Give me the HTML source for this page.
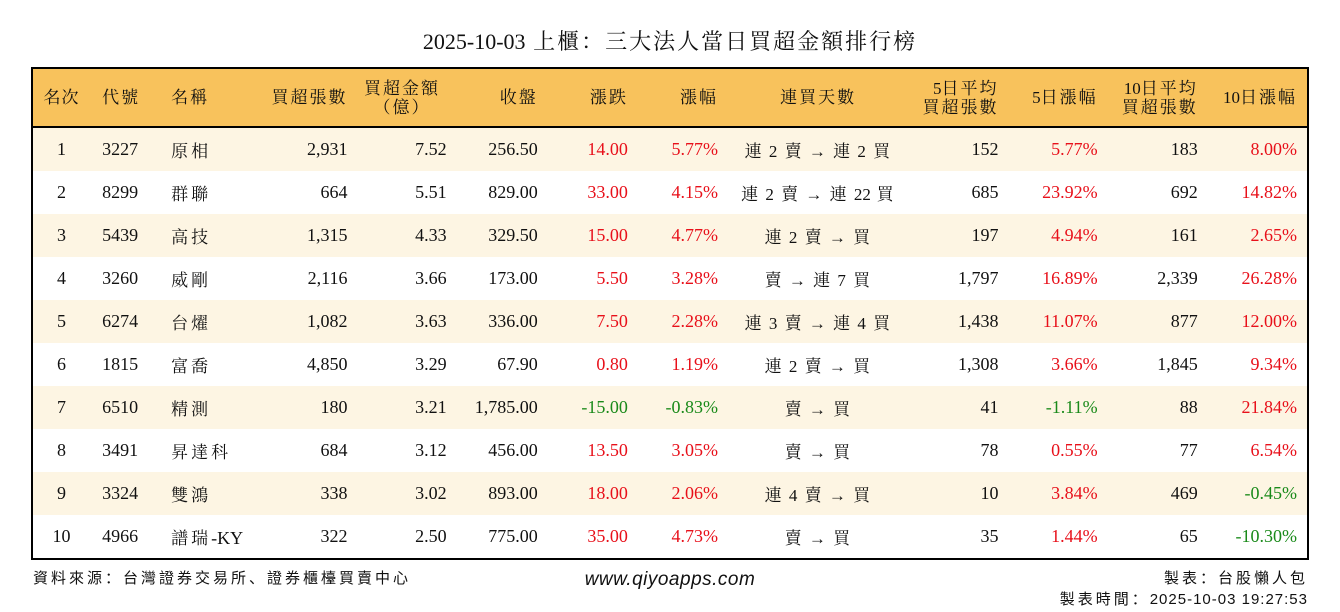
<!DOCTYPE html>
<html><head><meta charset="utf-8"><style>
body{margin:0;width:1340px;height:612px;background:#fff;position:relative;overflow:hidden;font-family:"Liberation Serif","Noto Serif CJK SC",serif;color:#111}
.title{position:absolute;top:28px;left:0;width:1340px;text-align:center;font-size:22px;line-height:28px;letter-spacing:2px}
.n{letter-spacing:0}
table{position:absolute;left:31px;top:67px;width:1278px;border:2px solid #000;border-collapse:collapse;table-layout:fixed;font-size:18px}
th{background:#f8c25c;font-weight:normal;height:57px;border-bottom:2px solid #000;line-height:19px;padding:0 10px;text-align:right;font-size:17px;letter-spacing:2px;white-space:nowrap}
th:first-child{padding:0;letter-spacing:1px}
td{height:43px;padding:0 10px;text-align:right;white-space:nowrap}
tr:nth-child(odd) td{background:#fdf5e3}
tbody tr:nth-child(even) td{background:#fff}
.c{text-align:center}.l{text-align:left;padding-left:12px}
td.l:nth-child(3){letter-spacing:3px;font-size:17px}
td.c:nth-child(9){letter-spacing:1.5px;font-size:17px}
.r{color:#e8101a}.g{color:#1a8a1a}
.f{position:absolute;font-family:"Liberation Sans","Noto Sans CJK SC",sans-serif;font-size:15px;letter-spacing:3px}
</style></head><body>
<div class="title"><span class="n">2025-10-03</span> 上櫃：三大法人當日買超金額排行榜</div>
<table>
<colgroup><col style="width:58px"><col style="width:69px"><col style="width:90px"><col style="width:108px"><col style="width:99px"><col style="width:91px"><col style="width:90px"><col style="width:90px"><col style="width:180px"><col style="width:100px"><col style="width:99px"><col style="width:100px"><col style="width:100px"></colgroup>
<thead><tr><th class="c">名次</th><th class="l">代號</th><th class="l">名稱</th><th>買超張數</th><th class="c" style="padding-left:0">買超金額<br>（億）</th><th>收盤</th><th>漲跌</th><th>漲幅</th><th class="c">連買天數</th><th><span class="n">5</span>日平均<br>買超張數</th><th><span class="n">5</span>日漲幅</th><th><span class="n">10</span>日平均<br>買超張數</th><th><span class="n">10</span>日漲幅</th></tr></thead>
<tbody>
<tr><td class="c">1</td><td class="l">3227</td><td class="l">原相</td><td>2,931</td><td>7.52</td><td>256.50</td><td class="r">14.00</td><td class="r">5.77%</td><td class="c">連 2 賣 → 連 2 買</td><td>152</td><td class="r">5.77%</td><td>183</td><td class="r">8.00%</td></tr>
<tr><td class="c">2</td><td class="l">8299</td><td class="l">群聯</td><td>664</td><td>5.51</td><td>829.00</td><td class="r">33.00</td><td class="r">4.15%</td><td class="c">連 2 賣 → 連 <span class="n">22</span> 買</td><td>685</td><td class="r">23.92%</td><td>692</td><td class="r">14.82%</td></tr>
<tr><td class="c">3</td><td class="l">5439</td><td class="l">高技</td><td>1,315</td><td>4.33</td><td>329.50</td><td class="r">15.00</td><td class="r">4.77%</td><td class="c">連 2 賣 → 買</td><td>197</td><td class="r">4.94%</td><td>161</td><td class="r">2.65%</td></tr>
<tr><td class="c">4</td><td class="l">3260</td><td class="l">威剛</td><td>2,116</td><td>3.66</td><td>173.00</td><td class="r">5.50</td><td class="r">3.28%</td><td class="c">賣 → 連 7 買</td><td>1,797</td><td class="r">16.89%</td><td>2,339</td><td class="r">26.28%</td></tr>
<tr><td class="c">5</td><td class="l">6274</td><td class="l">台燿</td><td>1,082</td><td>3.63</td><td>336.00</td><td class="r">7.50</td><td class="r">2.28%</td><td class="c">連 3 賣 → 連 4 買</td><td>1,438</td><td class="r">11.07%</td><td>877</td><td class="r">12.00%</td></tr>
<tr><td class="c">6</td><td class="l">1815</td><td class="l">富喬</td><td>4,850</td><td>3.29</td><td>67.90</td><td class="r">0.80</td><td class="r">1.19%</td><td class="c">連 2 賣 → 買</td><td>1,308</td><td class="r">3.66%</td><td>1,845</td><td class="r">9.34%</td></tr>
<tr><td class="c">7</td><td class="l">6510</td><td class="l">精測</td><td>180</td><td>3.21</td><td>1,785.00</td><td class="g">-15.00</td><td class="g">-0.83%</td><td class="c">賣 → 買</td><td>41</td><td class="g">-1.11%</td><td>88</td><td class="r">21.84%</td></tr>
<tr><td class="c">8</td><td class="l">3491</td><td class="l">昇達科</td><td>684</td><td>3.12</td><td>456.00</td><td class="r">13.50</td><td class="r">3.05%</td><td class="c">賣 → 買</td><td>78</td><td class="r">0.55%</td><td>77</td><td class="r">6.54%</td></tr>
<tr><td class="c">9</td><td class="l">3324</td><td class="l">雙鴻</td><td>338</td><td>3.02</td><td>893.00</td><td class="r">18.00</td><td class="r">2.06%</td><td class="c">連 4 賣 → 買</td><td>10</td><td class="r">3.84%</td><td>469</td><td class="g">-0.45%</td></tr>
<tr><td class="c">10</td><td class="l">4966</td><td class="l">譜瑞<span class="n" style="font-size:18px">-KY</span></td><td>322</td><td>2.50</td><td>775.00</td><td class="r">35.00</td><td class="r">4.73%</td><td class="c">賣 → 買</td><td>35</td><td class="r">1.44%</td><td>65</td><td class="g">-10.30%</td></tr>
</tbody></table>
<div class="f" style="left:33px;top:567px">資料來源：台灣證券交易所、證券櫃檯買賣中心</div>
<div class="f" style="left:0;width:1340px;text-align:center;top:569px;font-style:italic;font-size:19px;letter-spacing:0.5px">www.qiyoapps.com</div>
<div class="f" style="right:32px;top:567px">製表：台股懶人包</div>
<div class="f" style="right:32px;top:588px">製表時間：<span style="letter-spacing:1px">2025-10-03 19:27:53</span></div>
</body></html>
